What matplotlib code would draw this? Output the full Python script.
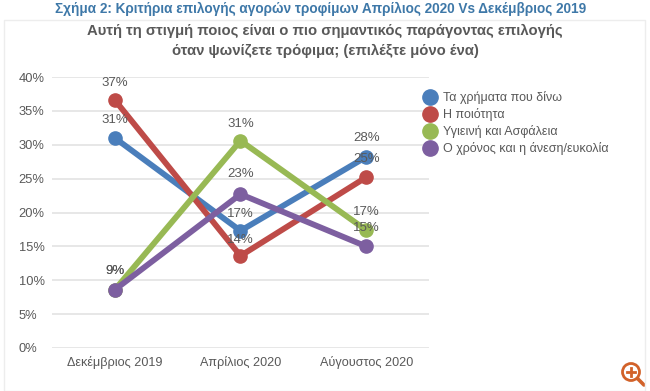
import matplotlib
matplotlib.use("Agg")
import matplotlib.pyplot as plt
from matplotlib.patches import Rectangle, Circle
from matplotlib.lines import Line2D

months = ["Δεκέμβριος 2019", "Απρίλιος 2020", "Αύγουστος 2020"]
money = [31.0, 17.3, 28.2]
quality = [36.6, 13.6, 25.2]
safety = [8.6, 30.6, 17.4]
convenience = [8.6, 22.7, 15.0]

money_labels = ["31%", "17%", "28%"]
quality_labels = ["37%", "14%", "25%"]
safety_labels = ["9%", "31%", "17%"]
convenience_labels = ["9%", "23%", "15%"]

names = ["Τα χρήματα που δίνω", "Η ποιότητα", "Υγιεινή και Ασφάλεια", "Ο χρόνος και η άνεση/ευκολία"]
colors = ["#4A7EBB", "#BE4B48", "#98B954", "#7D5FA0"]
yticks = [0, 5, 10, 15, 20, 25, 30, 35, 40]

W, H = 650, 391
plt.rcParams["font.family"] = ["Liberation Sans", "DejaVu Sans"]
fig = plt.figure(figsize=(W / 100, H / 100), dpi=100)

# outer frame of the pasted chart
fig.add_artist(Rectangle((4 / W, 1 - 391 / H), 641 / W, 371 / H, transform=fig.transFigure,
                         fill=False, edgecolor="#EDEDED", lw=1))

ax = fig.add_axes([52 / W, 1 - 348 / H, 377 / W, 271 / H])
ax.set_xlim(-0.5, 2.5)
ax.set_ylim(0, 40)
ax.set_xticks(range(3))
ax.set_xticklabels(months, fontsize=9.1, color="#595959")
ax.set_yticks(yticks)
ax.set_yticklabels([f"{t}%" for t in yticks], fontsize=9.3, color="#595959", ha="left")
ax.tick_params(axis="y", length=0, pad=24)
ax.tick_params(axis="x", length=0, pad=6)
ax.grid(axis="y", color="#E3E3E3", lw=1.2)
ax.set_axisbelow(True)
for s in ax.spines.values():
    s.set_visible(False)

series = [money, quality, safety, convenience]
for vals, col, name in zip(series, colors, names):
    ax.plot(range(3), vals, color=col, lw=4.2, marker="o", ms=9.5, label=name,
            solid_capstyle="round", clip_on=False)

# data labels sit above the points, gap in pixels
offsets = [
    (money_labels, money, [12, 11, 13]),
    (quality_labels, quality, [11, 10, 12]),
    (safety_labels, safety, [13, 11, 12]),
    (convenience_labels, convenience, [13, 14, 12]),
]
for labels, vals, ups in offsets:
    for i, lab in enumerate(labels):
        ax.annotate(lab, (i, vals[i]), xytext=(0, ups[i] * 0.72), textcoords="offset points",
                    ha="center", va="bottom", fontsize=9.5, color="#595959")

handles = [Line2D([], [], color=c, marker="o", ms=11, ls="none") for c in colors]
fig.legend(handles, names, loc="upper left", bbox_to_anchor=(417 / W, 1 - 91 / H),
           frameon=False, fontsize=9, labelcolor="#595959", handletextpad=0.1,
           labelspacing=0.33, borderpad=0, borderaxespad=0)

fig.text(321 / W, 1 - 9 / H, "Σχήμα 2: Κριτήρια επιλογής αγορών τροφίμων Απρίλιος 2020 Vs Δεκέμβριος 2019",
         ha="center", va="center", fontsize=9.8, fontweight="bold", color="#3E78A8")
fig.text(325 / W, 1 - 31 / H, "Αυτή τη στιγμή ποιος είναι ο πιο σημαντικός παράγοντας επιλογής",
         ha="center", va="center", fontsize=10.7, fontweight="bold", color="#595959")
fig.text(325 / W, 1 - 51 / H, "όταν ψωνίζετε τρόφιμα; (επιλέξτε μόνο ένα)",
         ha="center", va="center", fontsize=10.7, fontweight="bold", color="#595959")

# zoom icon in the corner
orange = "#D2622A"
icon = fig.add_axes([618 / W, 1 - 387 / H, 28 / W, 28 / H])
icon.set_xlim(0, 28)
icon.set_ylim(28, 0)
icon.axis("off")
icon.add_patch(Circle((13, 13), 8.5, fill=False, edgecolor=orange, lw=2))
icon.plot([19.5, 26], [19.5, 26], color=orange, lw=2.6, solid_capstyle="round")
icon.plot([9, 17], [13, 13], color=orange, lw=2)
icon.plot([13, 13], [9, 17], color=orange, lw=2)

fig.savefig("out.png", dpi=100)
